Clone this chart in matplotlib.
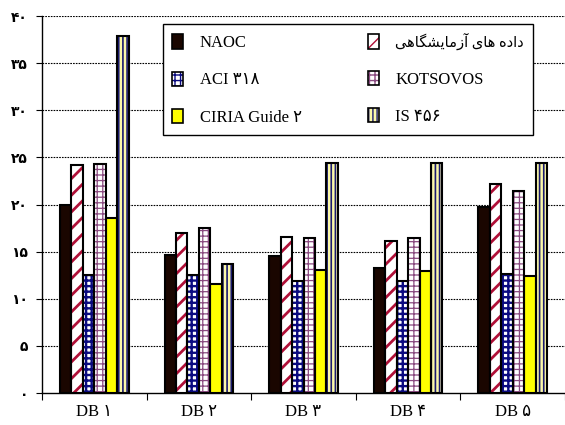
import matplotlib
matplotlib.use('Agg')
import matplotlib.pyplot as plt
from matplotlib.patches import Patch
from matplotlib.legend_handler import HandlerTuple
from matplotlib.font_manager import FontProperties
import numpy as np

# ---------------- data ----------------
categories = ['DB ۱', 'DB ۲', 'DB ۳', 'DB ۴', 'DB ۵']
naoc = [20.0, 14.6, 14.5, 13.3, 19.7]
experimental = [24.2, 17.0, 16.6, 16.1, 22.2]
aci318 = [12.5, 12.5, 11.9, 11.9, 12.6]
kotsovos = [24.3, 17.5, 16.4, 16.4, 21.4]
ciria = [18.6, 11.6, 13.0, 12.9, 12.4]
is456 = [37.9, 13.7, 24.4, 24.4, 24.4]
series_names = ['NAOC', 'داده های آزمایشگاهی', 'ACI ۳۱۸', 'KOTSOVOS', 'CIRIA Guide ۲', 'IS ۴۵۶']
ytick_values = [0, 5, 10, 15, 20, 25, 30, 35, 40]
ytick_labels = ['۰', '۵', '۱۰', '۱۵', '۲۰', '۲۵', '۳۰', '۳۵', '۴۰']

# ---------------- minimal Persian shaping (matplotlib has no text shaping) ----------------
FORMS = {  # isolated, final, initial, medial
    'ا': (0xFE8D, 0xFE8E, None, None),
    'آ': (0xFE81, 0xFE82, None, None),
    'د': (0xFEA9, 0xFEAA, None, None),
    'ز': (0xFEAF, 0xFEB0, None, None),
    'ه': (0xFEE9, 0xFEEA, 0xFEEB, 0xFEEC),
    'ی': (0xFBFC, 0xFBFD, 0xFBFE, 0xFBFF),
    'م': (0xFEE1, 0xFEE2, 0xFEE3, 0xFEE4),
    'ش': (0xFEB5, 0xFEB6, 0xFEB7, 0xFEB8),
    'گ': (0xFB92, 0xFB93, 0xFB94, 0xFB95),
}


def shape_rtl(s):
    if not any(c in FORMS for c in s):
        return s
    out = []
    for i, c in enumerate(s):
        if c not in FORMS:
            out.append(c)
            continue
        prev = s[i - 1] if i > 0 else None
        nxt = s[i + 1] if i + 1 < len(s) else None
        jp = prev in FORMS and FORMS[prev][2] is not None
        jn = FORMS[c][2] is not None and nxt in FORMS
        iso, fin, ini, med = FORMS[c]
        if jp and jn:
            code = med
        elif jp:
            code = fin
        elif jn:
            code = ini
        else:
            code = iso
        out.append(chr(code))
    return ''.join(reversed(out))


# ---------------- styles ----------------
styles = [
    dict(face='#1a0600', hatch=None, hcol='#1a0600'),
    dict(face='white', hatch='//', hcol='#b01038'),
    dict(face='white', hatch='+++', hcol='#0a0a80'),
    dict(face='white', hatch='+++', hcol='#8a4a80'),
    dict(face='#ffff00', hatch=None, hcol='#ffff00'),
    dict(face='#fbf8a8', hatch='||||', hcol='#1a1a70'),
]
hatch_lw = [1.0, 2.0, 1.7, 0.9, 1.0, 1.2]

serif = ['Liberation Serif', 'DejaVu Sans']

fig = plt.figure(figsize=(5.65, 4.25), dpi=100)
ax = fig.add_axes([42 / 565, 32 / 425, 523 / 565, 377 / 425])

series = [naoc, experimental, aci318, kotsovos, ciria, is456]
x = np.arange(len(categories))
w = 0.109
handles = []
for j, (vals, st) in enumerate(zip(series, styles)):
    pos = x + (j - 2.5) * w
    with plt.rc_context({'hatch.linewidth': hatch_lw[j]}):
        ax.bar(pos, vals, width=w, facecolor=st['face'], edgecolor=st['hcol'],
               hatch=st['hatch'], linewidth=0, zorder=3)
        h1 = Patch(facecolor=st['face'], edgecolor=st['hcol'], hatch=st['hatch'], linewidth=0)
    ax.bar(pos, vals, width=w, facecolor='none', edgecolor='black', linewidth=1.5, zorder=4)
    h2 = Patch(facecolor='none', edgecolor='black', linewidth=1.2)
    handles.append((h1, h2))

ax.set_xlim(-0.5, len(categories) - 0.5)
ax.set_ylim(0, 40)
ax.set_yticks(ytick_values)
ax.set_yticklabels(ytick_labels, family=['DejaVu Sans'], fontsize=10, fontweight='bold')
for y in ytick_values[1:]:
    ax.axhline(y, color='black', linewidth=0.8, linestyle=(0, (1.5, 1.0)), zorder=1)

ax.set_xticks(x)
ax.set_xticklabels(categories, family=serif, fontsize=12)
ax.tick_params(axis='x', length=0, pad=8)
ax.set_xticks(np.arange(-0.5, len(categories), 1.0), minor=True)
ax.tick_params(axis='x', which='minor', length=5, width=0.8, direction='out')
ax.tick_params(axis='y', length=4, width=0.8, direction='out', pad=6)

for s in ['top', 'right']:
    ax.spines[s].set_visible(False)
ax.spines['left'].set_linewidth(1.0)
ax.spines['bottom'].set_linewidth(1.0)

order = [0, 2, 4, 1, 3, 5]
leg = fig.legend([handles[i] for i in order], [shape_rtl(series_names[i]) for i in order],
                 handler_map={tuple: HandlerTuple(ndivide=1, pad=0)},
                 ncol=2, loc='upper left',
                 bbox_to_anchor=(163 / 565, 1 - 24 / 425, 370 / 565, 0.0),
                 mode='expand', prop=FontProperties(family=serif, size=12),
                 frameon=True, fancybox=False, edgecolor='black', framealpha=1,
                 handlelength=0.65, handleheight=0.95, handletextpad=1.0,
                 labelspacing=1.22, borderpad=0.55, borderaxespad=0, columnspacing=2.0)
leg.get_frame().set_linewidth(1.0)
leg.get_texts()[3].set_fontsize(10.5)

fig.savefig('out.png', dpi=100)
